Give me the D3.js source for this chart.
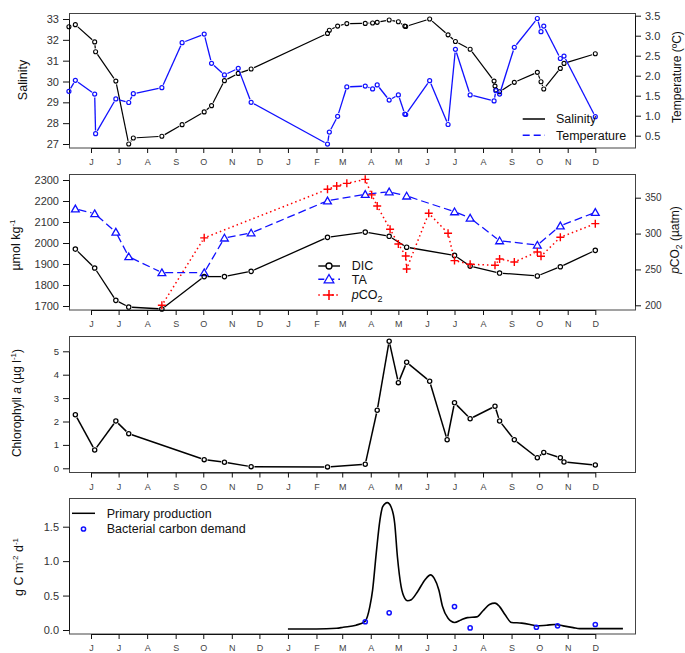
<!DOCTYPE html>
<html>
<head>
<meta charset="utf-8">
<script src="https://cdn.jsdelivr.net/npm/d3@7"></script>
<style>
  html, body { margin: 0; padding: 0; background: #fff; }
</style>
</head>
<body>
<svg id="chart" width="685" height="653"></svg>
<script>
// ---------------- DATA ----------------
const monthLabels = ["J","J","A","S","O","N","D","J","F","M","A","M","J","J","A","S","O","N","D"];

// Panel 1: salinity & temperature (shared sampling dates)
const hydroDates = ["2009-05-08","2009-05-15","2009-06-05","2009-06-06","2009-06-28","2009-07-12","2009-07-17","2009-08-17","2009-09-08","2009-10-02","2009-10-10","2009-10-24","2009-11-08","2009-11-22","2010-02-13","2010-02-15","2010-02-24","2010-03-06","2010-03-26","2010-04-03","2010-04-08","2010-04-21","2010-05-01","2010-05-08","2010-05-09","2010-06-04","2010-06-24","2010-07-02","2010-07-18","2010-08-13","2010-08-14","2010-08-15","2010-08-19","2010-09-04","2010-09-29","2010-10-03","2010-10-06","2010-10-24","2010-10-28","2010-12-01"];
const salinity = [32.63,32.73,31.9,31.43,30.02,27.0,27.29,27.37,27.93,28.54,28.84,30.04,30.39,30.6,32.31,32.46,32.66,32.78,32.79,32.81,32.84,32.95,32.87,32.66,32.64,33.0,32.24,31.92,31.55,30.02,29.78,29.59,29.51,29.96,30.44,29.99,29.64,30.63,30.87,31.33];
const temperature = [1.61,1.885,1.54,0.55,1.42,1.33,1.55,1.70,2.825,3.04,2.31,2.02,2.185,1.335,0.29,0.59,0.985,1.72,1.74,1.67,1.77,1.39,1.52,1.04,1.03,1.875,0.78,2.66,1.52,1.37,null,1.625,1.54,2.71,3.43,3.1,3.24,2.43,2.49,0.975];

// Panel 2: carbonate system
const carbDates = ["2009-05-15","2009-06-05","2009-06-28","2009-07-12","2009-08-17","2009-10-02","2009-10-24","2009-11-22","2010-02-13","2010-03-26","2010-04-21","2010-05-10","2010-07-01","2010-07-18","2010-08-19","2010-09-29","2010-10-24","2010-12-01"];
const dic = [1971,1881,1727,1695,1686,1840,1840,1865,2027,2052,2032,1980,1941,1890,1857,1843,1887,1965];
const ta  = [2163,2140,2052,1935,1859,1859,2024,2048,2201,2232,2244,2224,2149,2119,2011,1990,2082,2146];
const pco2Dates = ["2009-08-17","2009-10-02","2010-02-13","2010-02-23","2010-03-06","2010-03-26","2010-04-02","2010-04-08","2010-04-22","2010-05-01","2010-05-09","2010-05-10","2010-06-03","2010-06-24","2010-07-01","2010-07-18","2010-08-14","2010-08-19","2010-09-04","2010-09-29","2010-10-03","2010-10-24","2010-12-01"];
const pco2 = [200,294,361.7,366.3,370,375.6,354,338.4,306,285.5,268.8,250.7,328.3,300.4,262.3,257.2,255.8,264.6,260.4,274.4,268.4,294.8,313.8];

// Panel 3: chlorophyll a
const chlDates = ["2009-05-15","2009-06-05","2009-06-28","2009-07-12","2009-10-02","2009-10-24","2009-11-22","2010-02-13","2010-03-26","2010-04-08","2010-04-21","2010-05-01","2010-05-10","2010-06-04","2010-06-23","2010-07-01","2010-07-18","2010-08-14","2010-08-19","2010-09-04","2010-09-29","2010-10-06","2010-10-24","2010-10-28","2010-12-01"];
const chl = [2.29,0.78,2.02,1.48,0.37,0.26,0.07,0.06,0.17,2.48,5.43,3.66,4.53,3.72,1.22,2.8,2.12,2.65,2.02,1.22,0.45,0.68,0.45,0.27,0.14];

// Panel 4: primary production (smoothed) & bacterial carbon demand
const ppDates = ["2010-01-01","2010-02-01","2010-02-23","2010-03-02","2010-03-16","2010-03-26","2010-03-31","2010-04-03","2010-04-07","2010-04-11","2010-04-14","2010-04-19","2010-04-23","2010-04-27","2010-04-30","2010-05-04","2010-05-08","2010-05-11","2010-05-15","2010-05-22","2010-05-30","2010-06-05","2010-06-09","2010-06-14","2010-06-18","2010-06-24","2010-07-01","2010-07-08","2010-07-15","2010-07-25","2010-08-01","2010-08-08","2010-08-14","2010-08-19","2010-08-25","2010-09-01","2010-09-12","2010-09-21","2010-09-28","2010-10-09","2010-10-18","2010-10-27","2010-11-07","2010-11-14","2010-12-31"];
const pp = [0.015,0.015,0.025,0.04,0.07,0.13,0.34,0.58,1.12,1.6,1.79,1.85,1.79,1.55,1.06,0.63,0.46,0.425,0.44,0.56,0.73,0.80,0.75,0.58,0.34,0.17,0.11,0.145,0.18,0.19,0.28,0.37,0.39,0.34,0.22,0.11,0.10,0.08,0.06,0.07,0.08,0.06,0.035,0.02,0.02];
const bcdDates = ["2010-03-26","2010-04-21","2010-07-01","2010-07-18","2010-09-28","2010-10-21","2010-12-01"];
const bcd = [0.12,0.25,0.34,0.03,0.04,0.06,0.08];

// ---------------- LAYOUT ----------------
const FONT = "'Liberation Sans', Arial, Helvetica, sans-serif";
const L = 69, R = 635, GAP = 3.3;
const parse = d3.utcParse("%Y-%m-%d");
const svg = d3.select("#chart").style("font-family", FONT);
svg.append("rect").attr("width", 685).attr("height", 653).attr("fill", "#fff");

const x = d3.scaleUtc().domain([parse("2009-06-01"), parse("2010-12-01")]).range([91, 595.3]);
const monthTicks = d3.utcMonth.range(parse("2009-06-01"), parse("2010-12-02"));

const panels = [
  {top: 13.5, bottom: 148},
  {top: 174.5, bottom: 310},
  {top: 336.5, bottom: 472.5},
  {top: 498.5, bottom: 634}
];

const ySal = d3.scaleLinear().domain([27, 33]).range([144, 19]);
const yTemp = d3.scaleLinear().domain([0.5, 3.5]).range([135.7, 15.7]);
const yC = d3.scaleLinear().domain([1700, 2300]).range([306, 180]);
const yP = d3.scaleLinear().domain([200, 350]).range([305.3, 197.7]);
const yChl = d3.scaleLinear().domain([0, 5]).range([468.3, 351.3]);
const yPP = d3.scaleLinear().domain([0, 1.5]).range([630, 526.7]);

function zip(dates, vals) {
  return dates.map((d, i) => ({date: parse(d), v: vals[i]})).filter(d => d.v != null);
}

function box(p) {
  svg.append("rect").attr("x", L + 0.5).attr("y", p.top).attr("width", R - L)
    .attr("height", p.bottom - p.top).attr("fill", "none").attr("stroke", "#444").attr("stroke-width", 1);
}

function xAxis(p) {
  const g = svg.append("g").attr("transform", `translate(0,${p.bottom})`)
    .call(d3.axisBottom(x).tickValues(monthTicks).tickFormat((d, i) => monthLabels[i])
      .tickSize(5).tickPadding(6).tickSizeOuter(0));
  g.selectAll("text").attr("font-family", FONT).attr("font-size", 9).attr("fill", "#444");
  g.select(".domain").attr("stroke", "#111");
  g.selectAll(".tick line").attr("stroke", "#111");
}

function yAxis(scale, ticks, fmt, side, fs) {
  const ax = side === "left" ? d3.axisLeft(scale) : d3.axisRight(scale);
  const g = svg.append("g").attr("transform", `translate(${side === "left" ? L : R},0)`)
    .call(ax.tickValues(ticks).tickFormat(fmt).tickSize(6).tickPadding(4).tickSizeOuter(0));
  g.selectAll("text").attr("font-family", FONT).attr("font-size", fs || 11).attr("fill", "#333");
  g.select(".domain").attr("stroke", "#111");
  g.selectAll(".tick line").attr("stroke", "#111");
}

function gapLine(data, ys, color, width, dash) {
  const pts = data.map(d => [x(d.date), ys(d.v)]);
  const segs = d3.pairs(pts).map(([a, b]) => {
    const dx = b[0] - a[0], dy = b[1] - a[1], len = Math.hypot(dx, dy);
    if (len <= 2 * GAP) return null;
    const ux = dx / len, uy = dy / len;
    return [a[0] + ux * GAP, a[1] + uy * GAP, b[0] - ux * GAP, b[1] - uy * GAP];
  }).filter(Boolean);
  svg.append("g").selectAll("line").data(segs).join("line")
    .attr("x1", s => s[0]).attr("y1", s => s[1]).attr("x2", s => s[2]).attr("y2", s => s[3])
    .attr("stroke", color).attr("stroke-width", width).attr("stroke-dasharray", dash || null)
    .attr("fill", "none");
}

function circles(data, ys, color, r, sw) {
  svg.append("g").selectAll("circle").data(data).join("circle")
    .attr("cx", d => x(d.date)).attr("cy", d => ys(d.v)).attr("r", r)
    .attr("fill", "none").attr("stroke", color).attr("stroke-width", sw);
}

const triPath = d3.symbol(d3.symbolTriangle, 26)();
const plusPath = "M-4,0H4M0,-4V4";

function rotLabel(cx, cy, fs, build) {
  const t = svg.append("text").attr("transform", `translate(${cx},${cy}) rotate(-90)`)
    .attr("text-anchor", "middle").attr("y", fs * 0.35).attr("font-size", fs).attr("fill", "#111")
    .attr("font-family", FONT);
  build(t);
}

// ---------------- PANEL 1 ----------------
box(panels[0]);
xAxis(panels[0]);
yAxis(ySal, [27, 28, 29, 30, 31, 32, 33], d3.format("d"), "left");
yAxis(yTemp, [0.5, 1, 1.5, 2, 2.5, 3, 3.5], d3.format(".1f"), "right");
const salData = zip(hydroDates, salinity);
const tempData = zip(hydroDates, temperature);
gapLine(salData, ySal, "#000", 1.2);
circles(salData, ySal, "#000", 2, 1.1);
gapLine(tempData, yTemp, "#1010ff", 1.3);
circles(tempData, yTemp, "#1010ff", 2, 1.2);

// legend panel 1
svg.append("line").attr("x1", 522.7).attr("x2", 545).attr("y1", 119).attr("y2", 119)
  .attr("stroke", "#000").attr("stroke-width", 1.5);
svg.append("line").attr("x1", 522.7).attr("x2", 545).attr("y1", 135.3).attr("y2", 135.3)
  .attr("stroke", "#1010ff").attr("stroke-width", 1.5).attr("stroke-dasharray", "7,4");
svg.append("text").attr("x", 556).attr("y", 119).attr("dy", "0.35em").attr("font-size", 12.5).attr("fill", "#111").text("Salinity");
svg.append("text").attr("x", 556).attr("y", 135.3).attr("dy", "0.35em").attr("font-size", 12.5).attr("fill", "#111").text("Temperature");

rotLabel(23, 80, 12.5, t => t.text("Salinity"));
rotLabel(677, 77, 12, t => t.text("Temperature (ºC)"));

// ---------------- PANEL 2 ----------------
box(panels[1]);
xAxis(panels[1]);
yAxis(yC, [1700, 1800, 1900, 2000, 2100, 2200, 2300], d3.format("d"), "left");
yAxis(yP, [200, 250, 300, 350], d3.format("d"), "right", 10);
const dicData = zip(carbDates, dic);
const taData = zip(carbDates, ta);
const pData = zip(pco2Dates, pco2);
gapLine(taData, yC, "#1010ff", 1.3, "8,4");
svg.append("g").selectAll("path").data(taData).join("path")
  .attr("d", triPath).attr("transform", d => `translate(${x(d.date)},${yC(d.v) + 0.8})`)
  .attr("fill", "none").attr("stroke", "#1010ff").attr("stroke-width", 1.3);
gapLine(dicData, yC, "#000", 1.3);
circles(dicData, yC, "#000", 2.2, 1.2);
gapLine(pData, yP, "#ff0000", 1.5, "1.5,3");
svg.append("g").selectAll("path").data(pData).join("path")
  .attr("d", plusPath).attr("transform", d => `translate(${x(d.date)},${yP(d.v)})`)
  .attr("fill", "none").attr("stroke", "#ff0000").attr("stroke-width", 1.4);

// legend panel 2
const lg2 = [
  {y: 266, color: "#000", dash: null},
  {y: 279.3, color: "#1010ff", dash: "6,4"},
  {y: 295, color: "#ff0000", dash: "1.5,3"}
];
lg2.forEach(l => {
  svg.append("line").attr("x1", 318.3).attr("x2", 340).attr("y1", l.y).attr("y2", l.y)
    .attr("stroke", l.color).attr("stroke-width", 1.4).attr("stroke-dasharray", l.dash);
});
svg.append("circle").attr("cx", 329).attr("cy", 266).attr("r", 3).attr("fill", "#fff").attr("stroke", "#000").attr("stroke-width", 1.3);
svg.append("path").attr("d", d3.symbol(d3.symbolTriangle, 40)()).attr("transform", "translate(329,280)")
  .attr("fill", "#fff").attr("stroke", "#1010ff").attr("stroke-width", 1.3);
svg.append("path").attr("d", "M-5,0H5M0,-5V5").attr("transform", "translate(329,295)")
  .attr("fill", "none").attr("stroke", "#ff0000").attr("stroke-width", 1.5);
svg.append("text").attr("x", 351.7).attr("y", 266).attr("dy", "0.35em").attr("font-size", 12.5).attr("fill", "#111").text("DIC");
svg.append("text").attr("x", 351.7).attr("y", 279.3).attr("dy", "0.35em").attr("font-size", 12.5).attr("fill", "#111").text("TA");
{
  const t = svg.append("text").attr("x", 351.7).attr("y", 295).attr("dy", "0.35em").attr("font-size", 12.5).attr("fill", "#111");
  t.append("tspan").attr("font-style", "italic").text("p");
  t.append("tspan").text("CO");
  t.append("tspan").attr("dy", 3).attr("font-size", 9).text("2");
}

rotLabel(16, 245, 12.5, t => {
  t.append("tspan").text("µmol kg");
  t.append("tspan").attr("dy", -5).attr("font-size", 8).text("-1");
});
rotLabel(675, 240, 12, t => {
  t.append("tspan").attr("font-style", "italic").text("p");
  t.append("tspan").text("CO");
  t.append("tspan").attr("dy", 3).attr("font-size", 8.5).text("2");
  t.append("tspan").attr("dy", -3).text("  (µatm)");
});

// ---------------- PANEL 3 ----------------
box(panels[2]);
xAxis(panels[2]);
yAxis(yChl, [0, 1, 2, 3, 4, 5], d3.format("d"), "left", 9.5);
const chlData = zip(chlDates, chl);
gapLine(chlData, yChl, "#000", 1.5);
circles(chlData, yChl, "#000", 2.1, 1.3);

rotLabel(17, 403, 12, t => {
  t.append("tspan").text("Chlorophyll ");
  t.append("tspan").attr("font-style", "italic").text(" a ");
  t.append("tspan").text(" (µg l");
  t.append("tspan").attr("dy", -5).attr("font-size", 8).text("-1");
  t.append("tspan").attr("dy", 5).text(")");
});

// ---------------- PANEL 4 ----------------
box(panels[3]);
xAxis(panels[3]);
yAxis(yPP, [0, 0.5, 1, 1.5], d3.format(".1f"), "left", 11);
const ppData = zip(ppDates, pp);
svg.append("path").datum(ppData)
  .attr("d", d3.line().x(d => x(d.date)).y(d => yPP(d.v)).curve(d3.curveMonotoneX))
  .attr("fill", "none").attr("stroke", "#000").attr("stroke-width", 1.6);
const bcdData = zip(bcdDates, bcd);
circles(bcdData, yPP, "#1010ff", 2.1, 1.5);

// legend panel 4
svg.append("line").attr("x1", 72).attr("x2", 95).attr("y1", 513.3).attr("y2", 513.3)
  .attr("stroke", "#000").attr("stroke-width", 1.5);
svg.append("circle").attr("cx", 83.5).attr("cy", 529).attr("r", 2.1).attr("fill", "none")
  .attr("stroke", "#1010ff").attr("stroke-width", 1.5);
svg.append("text").attr("x", 106.7).attr("y", 513.3).attr("dy", "0.35em").attr("font-size", 12.5).attr("fill", "#111").text("Primary production");
svg.append("text").attr("x", 106.7).attr("y", 529).attr("dy", "0.35em").attr("font-size", 12.5).attr("fill", "#111").text("Bacterial carbon demand");

rotLabel(19, 567, 12.5, t => {
  t.append("tspan").text("g C m");
  t.append("tspan").attr("dy", -5).attr("font-size", 8).text("-2");
  t.append("tspan").attr("dy", 5).text(" d");
  t.append("tspan").attr("dy", -5).attr("font-size", 8).text("-1");
});
</script>
</body>
</html>
